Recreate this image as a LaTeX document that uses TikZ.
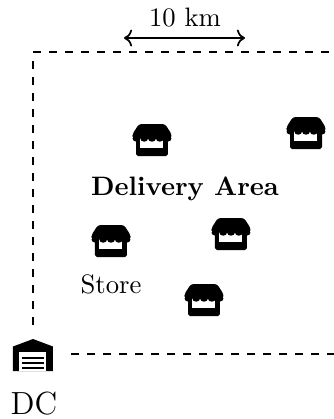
\documentclass[tikz,border=0pt]{standalone}
\usepackage{xcolor}
\usepackage{tikz}
\usetikzlibrary{
  arrows.meta,
  positioning,
  calc
}
\tikzset{
  boundary/.style={line width=0.85pt, dashed},
  span/.style={<->, line width=0.65pt},
  tag/.style={font=\normalsize, inner sep=0pt},
  areatag/.style={font=\normalsize\bfseries, inner sep=0pt},
  dctag/.style={font=\large, inner sep=0pt},
  storeicon/.pic={
    \fill[black, rounded corners=0.7pt] (-16,-3) rectangle (16,16);
    \fill[white] (-11.5,-3) rectangle (11.5,8);
    \fill[black, rounded corners=1pt] (-13,-16) -- (13,-16) -- (19.5,-6) -- (19.5,-2) -- (-19.5,-2) -- (-19.5,-6) -- cycle;
    \foreach \s in {-15.6,-7.8,0,7.8,15.6}{
      \fill[black] (\s,-1.5) ellipse[x radius=3.9, y radius=3.2];
    }
  },
  dcicon/.pic={
    \fill[black] (-20,16) -- (-20,-8.5) -- (0,-16) -- (20,-8.5) -- (20,16) -- cycle;
    \fill[white] (-13.5,-3) rectangle (13.5,16);
    \foreach \s in {1.5,6.5,11.5}{
      \fill[black] (-11,\s) rectangle (11,\s+2.7);
    }
  }
}
\begin{document}
\begin{tikzpicture}[x=0.375pt, y=-0.375pt]
  \useasboundingbox (0,0) rectangle (334,419);
  % boundary of the area
  \coordinate (topleft) at (33,52);
  \coordinate (topright) at (334,52);
  \coordinate (leftstart) at (33,61);
  \coordinate (leftend) at (33,325);
  \coordinate (bottomstart) at (71,354);
  \coordinate (bottomend) at (334,354);
  \draw[boundary] (topleft) -- (topright);
  \draw[boundary] (leftstart) -- (leftend);
  \draw[boundary] (bottomstart) -- (bottomend);
  % scale
  \coordinate (spanleft) at (124,38);
  \coordinate (spanright) at (245,38);
  \draw[span] (spanleft) -- (spanright);
  \node[tag] (spanlabel) at (185,18) {10 km};
  % stores
  \foreach \name/\x/\y in {storea/152/140,storeb/306/133,storec/231/234,stored/111/241,storee/204/300}{
    \pic (\name) at (\x,\y) {storeicon};
  }
  \node[areatag] (area) at (185,189) {Delivery Area};
  \node[tag] (storelabel) at (111,284) {Store};
  % depot
  \pic (depot) at (33,355) {dcicon};
  \node[dctag] (dclabel) at (34,404) {DC};
\end{tikzpicture}
\end{document}
